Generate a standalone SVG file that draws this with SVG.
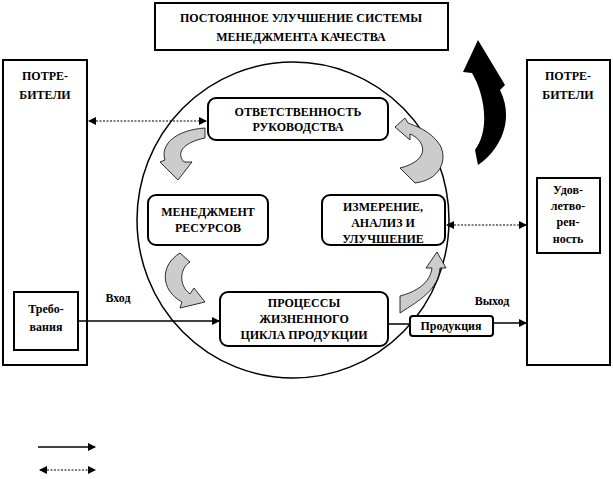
<svg xmlns="http://www.w3.org/2000/svg" width="613" height="479" viewBox="0 0 613 479">
<defs>
<marker id="ah" markerWidth="8" markerHeight="8" refX="7" refY="4" orient="auto-start-reverse" markerUnits="userSpaceOnUse"><path d="M0,0 L8,4 L0,8 z" fill="#000"/></marker>
<style>
.b{fill:#fff;stroke:#000;stroke-width:2}
.t{font-family:"Liberation Serif",serif;font-weight:bold;font-size:12px;text-anchor:middle}
.ln{stroke:#000;stroke-width:1.5;fill:none}
.dt{stroke:#000;stroke-width:1.2;stroke-dasharray:2,1.5;fill:none}
.ca{stroke:#000;stroke-width:0.8}
</style>
</defs>
<rect width="613" height="479" fill="#fff"/>
<g id="title"><rect class="b" x="155" y="3" width="293" height="47"/><text class="t" x="301" y="22" font-size="13">ПОСТОЯННОЕ УЛУЧШЕНИЕ СИСТЕМЫ</text><text class="t" x="301" y="41" font-size="13">МЕНЕДЖМЕНТА КАЧЕСТВА</text></g>
<g id="circle"><ellipse cx="293" cy="220" rx="156" ry="158" fill="#fff" stroke="#000" stroke-width="1.5"/></g>
<g id="consumers-left"><rect class="b" x="3" y="60" width="84" height="305"/><text class="t" x="45" y="80">ПОТРЕ-</text><text class="t" x="45" y="99">БИТЕЛИ</text></g>
<g id="consumers-right"><rect class="b" x="527" y="60" width="83" height="305"/><text class="t" x="568" y="80">ПОТРЕ-</text><text class="t" x="568" y="99">БИТЕЛИ</text></g>
<g id="req"><rect class="b" x="14" y="292" width="64" height="58"/><text class="t" x="46" y="313">Требо-</text><text class="t" x="46" y="331" font-size="11">вания</text></g>
<g id="sat"><rect class="b" x="537" y="178" width="63" height="75"/><text class="t" x="568" y="194" font-size="11">Удов-</text><text class="t" x="568" y="210" font-size="11">летво-</text><text class="t" x="568" y="226" font-size="11">рен-</text><text class="t" x="568" y="243" font-size="11">ность</text></g>
<g id="resp"><rect class="b" x="208" y="98" width="180" height="42" rx="8"/><text class="t" x="298" y="116" font-size="11">ОТВЕТСТВЕННОСТЬ</text><text class="t" x="298" y="131" font-size="11">РУКОВОДСТВА</text></g>
<g id="res"><rect class="b" x="148" y="195" width="120" height="50" rx="8"/><text class="t" x="208" y="216" font-size="11">МЕНЕДЖМЕНТ</text><text class="t" x="208" y="232" font-size="11">РЕСУРСОВ</text></g>
<g id="meas"><rect class="b" x="322" y="195" width="123" height="50" rx="8"/><text class="t" x="383" y="211" font-size="11">ИЗМЕРЕНИЕ,</text><text class="t" x="383" y="227" font-size="11">АНАЛИЗ И</text><text class="t" x="383" y="243" font-size="11">УЛУЧШЕНИЕ</text></g>
<g id="proc"><rect class="b" x="220" y="292" width="168" height="54" rx="8"/><text class="t" x="304" y="307" font-size="11">ПРОЦЕССЫ</text><text class="t" x="304" y="323" font-size="11">ЖИЗНЕННОГО</text><text class="t" x="304" y="339" font-size="11">ЦИКЛА ПРОДУКЦИИ</text></g>
<g id="prod"><rect class="b" x="410" y="316" width="83" height="20" rx="3"/><text class="t" x="451" y="330" font-size="10">Продукция</text></g>
<g id="connectors">
<line class="dt" x1="89" y1="121" x2="206" y2="121" marker-start="url(#ah)" marker-end="url(#ah)"/>
<line class="dt" x1="447" y1="225" x2="526" y2="225" marker-start="url(#ah)" marker-end="url(#ah)"/>
<line class="ln" x1="78" y1="321" x2="219" y2="321" marker-end="url(#ah)"/>
<line class="ln" x1="388" y1="324" x2="410" y2="324"/>
<line class="ln" x1="493" y1="323" x2="526" y2="323" marker-end="url(#ah)"/>
<text class="t" x="118" y="302" font-size="11">Вход</text>
<text class="t" x="492" y="305" font-size="11">Выход</text>
<line class="ln" x1="38" y1="447" x2="95" y2="447" marker-end="url(#ah)"/>
<line class="dt" x1="40" y1="470" x2="95" y2="470" marker-start="url(#ah)" marker-end="url(#ah)"/>
<path d="M478,165 C500,150 515,120 500,90 L505,85 L478,40 L463,72 L472,73 C485,95 490,130 475,150 Z" fill="#000"/>
<path class="ca" d="M205,128 C175,130 160,145 165,160 L160,162 L178,180 L192,162 L184,162 C175,152 185,142 205,138 Z" fill="#ccc"/>
<path class="ca" d="M415,183 C440,180 448,160 440,145 C430,130 415,126 408,123 L405,118 L395,127 L410,140 L410,134 C425,140 432,160 400,168 Z" fill="#ccc"/>
<path class="ca" d="M180,253 C160,265 160,290 182,302 L180,308 L205,302 L194,288 L190,294 C178,285 180,268 190,262 Z" fill="#ccc"/>
<path class="ca" d="M400,313 C420,300 438,290 440,268 L446,268 L437,252 L426,268 L432,268 C430,284 415,292 400,296 Z" fill="#ccc"/>
</g>
</svg>
